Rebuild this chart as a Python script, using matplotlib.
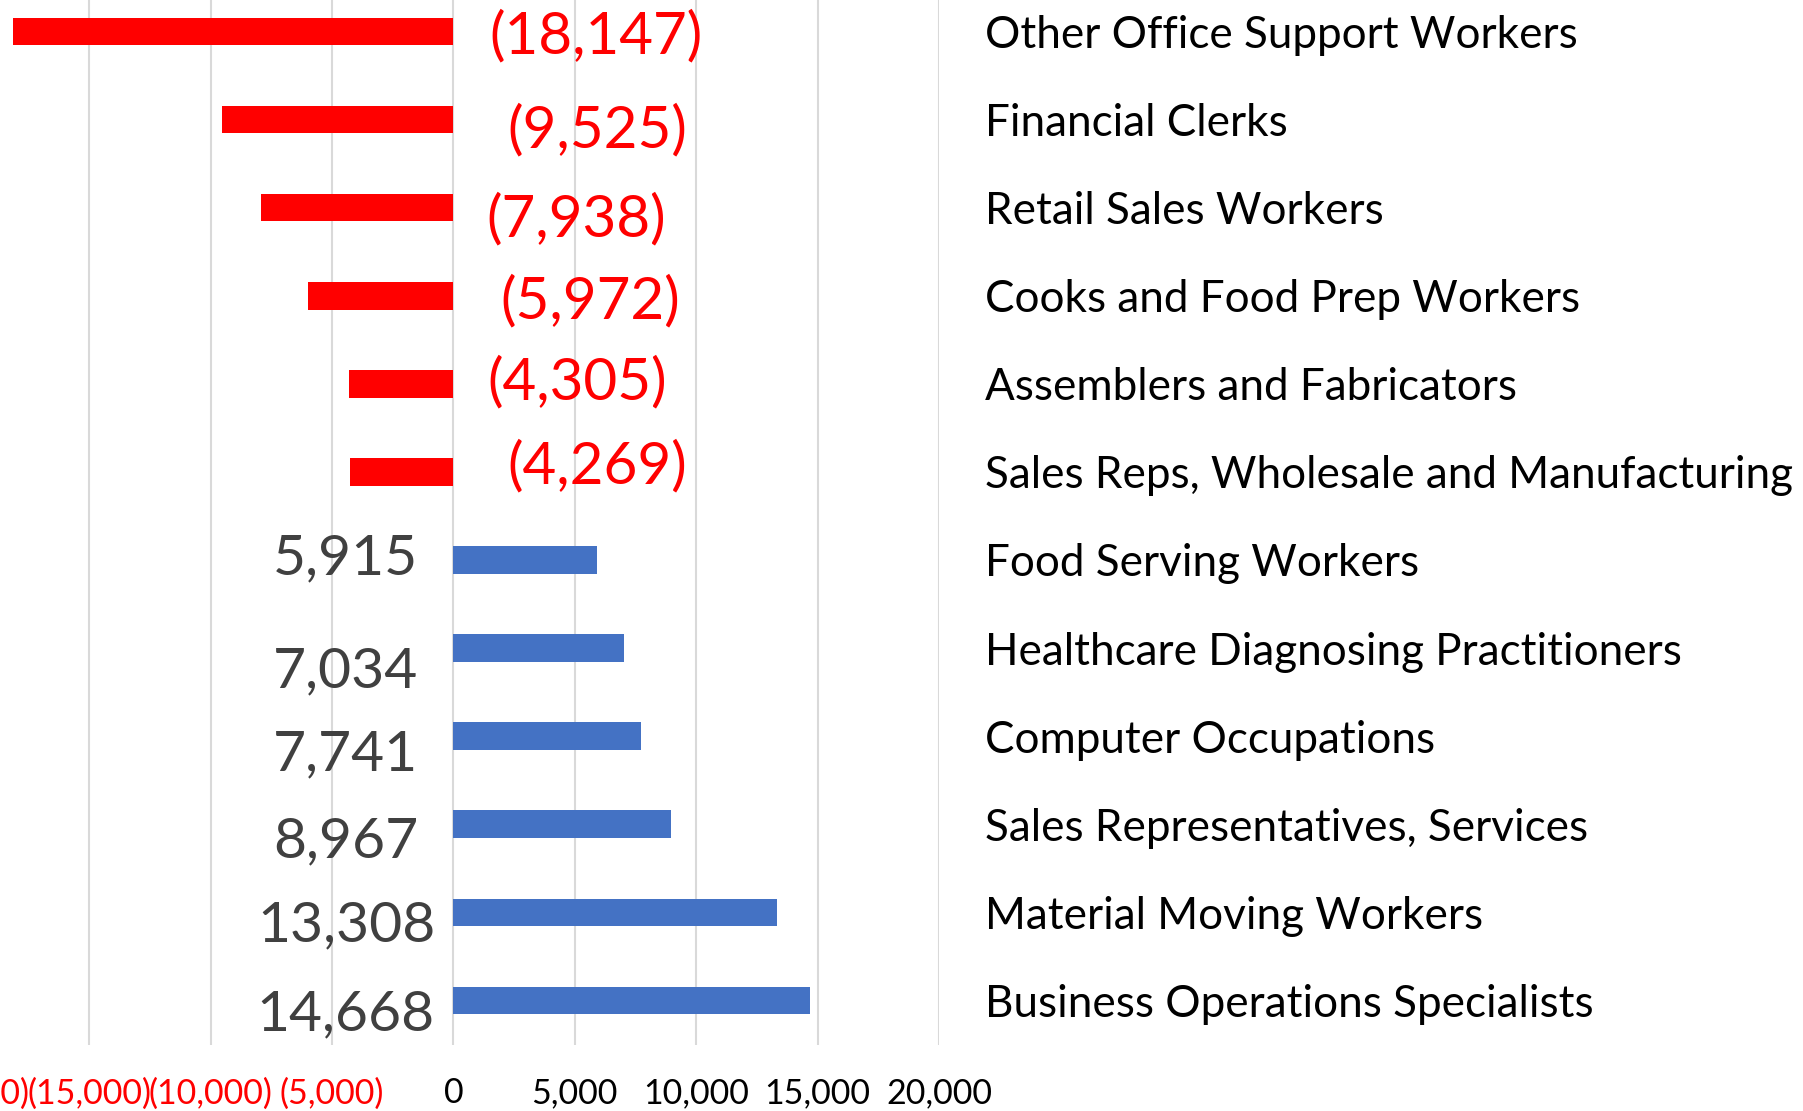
import matplotlib
matplotlib.use("Agg")
import matplotlib.pyplot as plt
from matplotlib.ticker import FixedLocator, FuncFormatter

plt.rcParams['font.family'] = ['Lato', 'DejaVu Sans']

# ---- data ----
categories = [
    "Other Office Support Workers",
    "Financial Clerks",
    "Retail Sales Workers",
    "Cooks and Food Prep Workers",
    "Assemblers and Fabricators",
    "Sales Reps, Wholesale and Manufacturing",
    "Food Serving Workers",
    "Healthcare Diagnosing Practitioners",
    "Computer Occupations",
    "Sales Representatives, Services",
    "Material Moving Workers",
    "Business Operations Specialists",
]
values = [-18147, -9525, -7938, -5972, -4305, -4269,
          5915, 7034, 7741, 8967, 13308, 14668]
x_ticks = [-20000, -15000, -10000, -5000, 0, 5000, 10000, 15000, 20000]

# ---- label placement (data-x of label centre, vertical offset in px) ----
label_x = [5877, 5918, 5053, 5630, 5095, 5918,
           -4430, -4430, -4430, -4430, -4400, -4430]
label_dy_px = [1.5, 7, 8, 2, -5, -9, -7, 18, 13, 12, 8, 9]

RED = "#FF0000"
BLUE = "#4472C4"
GRAY_TXT = "#404040"

W, H = 1803, 1111
fig = plt.figure(figsize=(W / 100, H / 100), dpi=100)
ax = fig.add_axes([-32.3 / W, (H - 1044.5) / H, (939 + 32.3) / W, (1044.5 + 12.6) / H])

ypos = list(range(len(categories)))
colors = [RED if v < 0 else BLUE for v in values]
ax.barh(ypos, values, height=0.314, color=colors, zorder=3)

ax.set_xlim(-20000, 20000)
ax.set_ylim(len(categories) - 0.5, -0.5)

ax.xaxis.set_major_locator(FixedLocator(x_ticks))


def fmt(v, pos=None):
    if v < 0:
        return "({:,.0f})".format(-v)
    return "{:,.0f}".format(v)


ax.xaxis.set_major_formatter(FuncFormatter(fmt))
ax.tick_params(axis='x', length=0, pad=23.5, labelsize=24.5)
for lbl, t in zip(ax.get_xticklabels(), x_ticks):
    lbl.set_color(RED if t < 0 else "black")

ax.grid(axis='x', color="#D9D9D9", linewidth=1.5, zorder=0)
ax.set_axisbelow(True)

ax.yaxis.tick_right()
ax.set_yticks(ypos)
ax.set_yticklabels(categories, fontsize=31.7, color="black", ha='left')
ax.tick_params(axis='y', length=0, pad=33)

for s in ax.spines.values():
    s.set_visible(False)

px_per_unit = 88.1
digit_half_px = 21
for i, (v, lx, dy) in enumerate(zip(values, label_x, label_dy_px)):
    ax.text(lx, i + (dy + digit_half_px) / px_per_unit, fmt(v),
            ha='center', va='baseline',
            fontsize=42 if v < 0 else 41,
            color=RED if v < 0 else GRAY_TXT, zorder=4)

fig.savefig("out.png", dpi=100)
